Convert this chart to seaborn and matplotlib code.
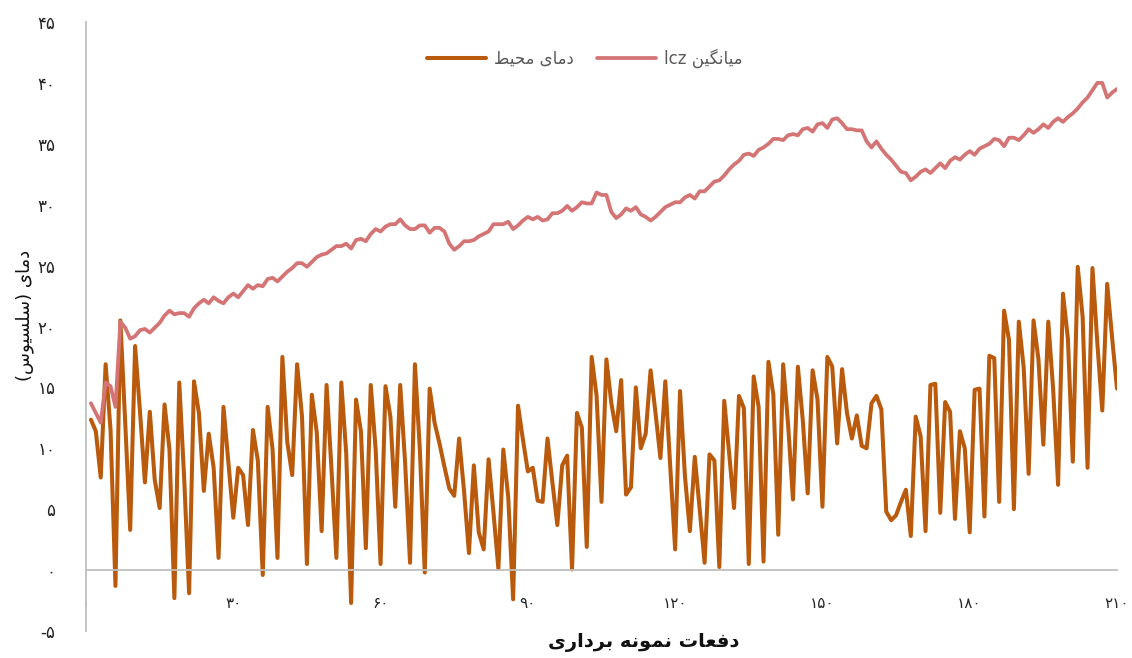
import numpy as np
import pandas as pd
import matplotlib
matplotlib.use("Agg")
import matplotlib.pyplot as plt
import seaborn as sns

# ---- data -------------------------------------------------------------
sample_no = list(range(1, 211))

ambient_temp = [
    12.35, 11.4, 7.6, 16.9, 11.5, -1.3, 20.5, 12.0, 3.3, 18.4,
    13.0, 7.2, 13.0, 7.4, 5.1, 13.6, 9.9, -2.3, 15.4, 7.5,
    -1.9, 15.5, 12.9, 6.5, 11.2, 8.4, 1.0, 13.4, 8.8, 4.3,
    8.4, 7.8, 3.7, 11.5, 9.0, -0.4, 13.4, 9.9, 1.0, 17.5,
    10.5, 7.8, 16.9, 12.6, 0.5, 14.4, 11.3, 3.2, 15.2, 8.3,
    1.0, 15.4, 9.6, -2.7, 14.0, 11.4, 1.8, 15.2, 9.9, 0.5,
    15.1, 12.6, 5.2, 15.2, 8.8, 0.6, 16.9, 9.9, -0.2, 14.9,
    12.1, 10.4, 8.5, 6.7, 6.1, 10.8, 6.5, 1.4, 8.6, 3.1,
    1.7, 9.1, 4.7, 0.1, 9.9, 6.0, -2.4, 13.5, 10.7, 8.1,
    8.4, 5.7, 5.6, 10.8, 7.2, 3.7, 8.6, 9.4, 0.05, 12.9,
    11.7, 1.9, 17.5, 14.3, 5.6, 17.3, 13.7, 11.4, 15.6, 6.2,
    6.8, 15.0, 10.0, 11.2, 16.4, 12.9, 9.2, 15.5, 8.5, 1.7,
    14.7, 7.7, 3.2, 9.3, 5.0, 0.6, 9.5, 9.0, 0.25, 13.9,
    9.6, 5.1, 14.3, 13.3, 0.5, 15.9, 13.4, 0.7, 17.1, 14.4,
    2.9, 16.9, 12.0, 5.8, 16.7, 12.3, 6.3, 16.4, 14.0, 5.2,
    17.5, 16.7, 10.4, 16.5, 12.9, 10.8, 12.7, 10.2, 10.0, 13.7,
    14.3, 13.2, 4.8, 4.1, 4.5, 5.6, 6.6, 2.8, 12.6, 11.0,
    3.2, 15.2, 15.3, 4.7, 13.8, 13.0, 4.2, 11.4, 10.0, 3.1,
    14.8, 14.9, 4.4, 17.6, 17.4, 5.6, 21.3, 18.9, 5.0, 20.4,
    16.6, 7.9, 20.5, 17.3, 10.3, 20.4, 14.8, 7.0, 22.7, 19.0,
    8.9, 24.9, 20.8, 8.4, 24.8, 18.6, 13.1, 23.5, 19.1, 14.9,
]

lcz_mean = [
    13.7, 12.9, 12.1, 15.4, 15.1, 13.4, 20.4, 19.9, 19.0, 19.2,
    19.7, 19.8, 19.5, 19.9, 20.3, 20.9, 21.3, 21.0, 21.1, 21.1,
    20.8, 21.5, 21.9, 22.2, 21.9, 22.4, 22.1, 21.9, 22.4, 22.7,
    22.4, 22.9, 23.4, 23.1, 23.4, 23.3, 23.9, 24.0, 23.7, 24.1,
    24.5, 24.8, 25.2, 25.2, 24.9, 25.3, 25.7, 25.9, 26.0, 26.3,
    26.6, 26.6, 26.8, 26.4, 27.1, 27.2, 27.0, 27.6, 28.0, 27.8,
    28.2, 28.4, 28.4, 28.8, 28.3, 28.0, 28.0, 28.3, 28.3, 27.7,
    28.1, 28.1, 27.8, 26.8, 26.3, 26.6, 27.0, 27.0, 27.1, 27.4,
    27.6, 27.8, 28.4, 28.4, 28.4, 28.6, 28.0, 28.3, 28.7, 29.0,
    28.8, 29.0, 28.7, 28.8, 29.3, 29.3, 29.5, 29.9, 29.5, 29.8,
    30.2, 30.1, 30.1, 31.0, 30.8, 30.8, 29.4, 28.9, 29.2, 29.7,
    29.5, 29.8, 29.2, 29.0, 28.7, 29.0, 29.4, 29.8, 30.0, 30.2,
    30.2, 30.6, 30.8, 30.5, 31.1, 31.1, 31.5, 31.9, 32.0, 32.4,
    32.9, 33.3, 33.6, 34.1, 34.2, 34.0, 34.5, 34.7, 35.0, 35.4,
    35.4, 35.3, 35.7, 35.8, 35.7, 36.2, 36.3, 36.0, 36.6, 36.7,
    36.3, 37.0, 37.1, 36.7, 36.2, 36.2, 36.1, 36.1, 35.2, 34.7,
    35.2, 34.6, 34.1, 33.7, 33.2, 32.7, 32.6, 32.0, 32.3, 32.7,
    32.9, 32.6, 33.0, 33.4, 33.0, 33.6, 33.9, 33.7, 34.1, 34.4,
    34.1, 34.6, 34.8, 35.0, 35.4, 35.3, 34.8, 35.5, 35.5, 35.3,
    35.7, 36.2, 35.9, 36.2, 36.6, 36.3, 36.8, 37.1, 36.8, 37.2,
    37.5, 37.9, 38.4, 38.8, 39.4, 40.0, 40.0, 38.8, 39.2, 39.5,
]

y_ticks = list(range(-5, 50, 5))
x_ticks = list(range(0, 211, 30))

series_ambient = "دمای محیط"
series_lcz = "میانگین lcz"
x_title = "دفعات نمونه برداری"
y_title = "دمای (سلسیوس)"

# ---- minimal Persian shaping (contextual forms + right-to-left order) --
FORMS = {
    "ا": (0xFE8D, 0xFE8E, None, None),
    "د": (0xFEA9, 0xFEAA, None, None),
    "ر": (0xFEAD, 0xFEAE, None, None),
    "و": (0xFEED, 0xFEEE, None, None),
    "ب": (0xFE8F, 0xFE90, 0xFE91, 0xFE92),
    "ت": (0xFE95, 0xFE96, 0xFE97, 0xFE98),
    "ح": (0xFEA1, 0xFEA2, 0xFEA3, 0xFEA4),
    "س": (0xFEB1, 0xFEB2, 0xFEB3, 0xFEB4),
    "ط": (0xFEC1, 0xFEC2, 0xFEC3, 0xFEC4),
    "ع": (0xFEC9, 0xFECA, 0xFECB, 0xFECC),
    "ف": (0xFED1, 0xFED2, 0xFED3, 0xFED4),
    "ل": (0xFEDD, 0xFEDE, 0xFEDF, 0xFEE0),
    "م": (0xFEE1, 0xFEE2, 0xFEE3, 0xFEE4),
    "ن": (0xFEE5, 0xFEE6, 0xFEE7, 0xFEE8),
    "ه": (0xFEE9, 0xFEEA, 0xFEEB, 0xFEEC),
    "ی": (0xFBFC, 0xFBFD, 0xFBFE, 0xFBFF),
    "گ": (0xFB92, 0xFB93, 0xFB94, 0xFB95),
}


def _dual(c):
    return c in FORMS and FORMS[c][2] is not None


def rtl(text):
    chars = list(text)
    shaped = []
    for k, c in enumerate(chars):
        if c not in FORMS:
            shaped.append(c)
            continue
        prev = chars[k - 1] if k > 0 else None
        nxt = chars[k + 1] if k + 1 < len(chars) else None
        jp = prev is not None and _dual(prev)
        jn = _dual(c) and nxt in FORMS
        iso, fin, ini, med = FORMS[c]
        if jp and jn:
            code = med
        elif jp:
            code = fin
        elif jn:
            code = ini
        else:
            code = iso
        shaped.append(chr(code))
    vis = shaped[::-1]
    vis = [{"(": ")", ")": "("}.get(c, c) for c in vis]
    # keep Latin runs in reading order
    out, run = [], []
    for c in vis:
        if c.isascii() and c.isalnum():
            run.append(c)
        else:
            out.extend(run[::-1]); run = []
            out.append(c)
    out.extend(run[::-1])
    return "".join(out)


FA_DIGITS = str.maketrans("0123456789", "۰۱۲۳۴۵۶۷۸۹")


def fa_num(v):
    return str(v).translate(FA_DIGITS)


# ---- plot ---------------------------------------------------------------
sns.set_theme(style="white")
plt.rcParams["font.family"] = ["DejaVu Sans"]

df = pd.DataFrame({"n": sample_no, "ambient": ambient_temp, "lcz": lcz_mean})

brown = "#B95A0C"
pink = "#D47474"

fig = plt.figure(figsize=(11.32, 6.58), dpi=100)
ax = fig.add_axes([86 / 1132, 1 - 631 / 658, (1117 - 86) / 1132, (631 - 22) / 658])

sns.lineplot(data=df, x="n", y="ambient", ax=ax, color=brown, linewidth=2.9,
             label=rtl(series_ambient), solid_joinstyle="round", solid_capstyle="round")
sns.lineplot(data=df, x="n", y="lcz", ax=ax, color=pink, linewidth=2.7,
             label=rtl(series_lcz), solid_joinstyle="round", solid_capstyle="round")

ax.set_xlim(0, 210)
ax.set_ylim(-5, 45)
ax.set_xticks(x_ticks)
ax.set_xticklabels([fa_num(v) for v in x_ticks], fontsize=12, color="#222222")
ax.set_yticks(y_ticks)
ax.set_yticklabels([fa_num(v) for v in y_ticks], fontsize=12, color="#222222")
ax.tick_params(axis="x", length=0, pad=19)
ax.tick_params(axis="y", length=0, pad=22)

for s in ("top", "right"):
    ax.spines[s].set_visible(False)
ax.spines["bottom"].set_position(("data", 0))
for s in ("bottom", "left"):
    ax.spines[s].set_color("#BFBFBF")
    ax.spines[s].set_linewidth(1.3)
ax.grid(False)
ax.set_xlabel("")
ax.set_ylabel("")

fig.text(644 / 1132, 1 - 643 / 658, rtl(x_title), ha="center", va="center",
         fontsize=14, fontweight="bold", color="#111111")
fig.text(25 / 1132, 1 - 315 / 658, rtl(y_title), ha="center", va="center",
         rotation=90, fontsize=13, color="#111111")

ax.legend(loc="center", bbox_to_anchor=(585 / 1132, 1 - 58 / 658),
          bbox_transform=fig.transFigure, ncol=2, frameon=False,
          fontsize=12, handlelength=3.5, handletextpad=0.5, columnspacing=1.4,
          labelcolor="#595959")

fig.savefig("out.png", dpi=100)
